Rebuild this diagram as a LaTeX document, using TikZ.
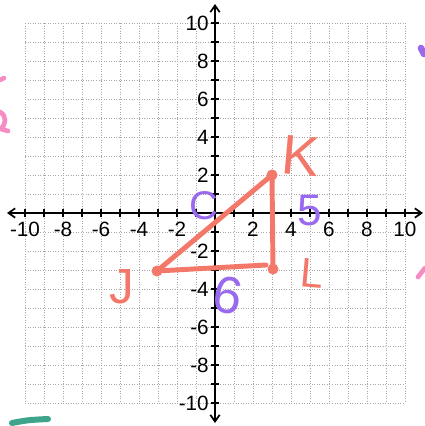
\documentclass[tikz,border=0pt]{standalone}
\usepackage{fontspec}
\setmainfont{Liberation Sans}
\usetikzlibrary{arrows.meta}
\definecolor{salmon}{HTML}{F3786A}
\definecolor{hpurple}{HTML}{9A6AEE}
\definecolor{hpink}{HTML}{F58CC4}
\definecolor{hgreen}{HTML}{3FA58A}
\definecolor{gridgray}{HTML}{A8A8A8}
\begin{document}
\begin{tikzpicture}[x=0.026316cm, y=-0.026316cm,
  gridline/.style={gridgray, line width=0.45pt, dash pattern=on 0.6pt off 1.3pt},
  axisline/.style={black, line width=1.3pt, {Straight Barb[length=5pt,width=7pt]}-{Straight Barb[length=5pt,width=7pt]}},
  tickmark/.style={black, line width=1pt},
  numlbl/.style={inner sep=0pt, font=\fontsize{15.5}{16}\selectfont},
  tri/.style={salmon, line width=3.7pt, line cap=round},
  vdot/.style={salmon, fill=salmon},
  hand/.style={inner sep=0pt, font=\fontsize{#1}{#1}\selectfont},
  strokemark/.style={line width=3.5pt, line cap=round}]
\useasboundingbox (0,0) rectangle (425,426);
\fill[white] (0,0) rectangle (425,426);
% grid
\foreach \i in {-10,...,10} {
  \draw[gridline] ({215+19*\i},23) -- ({215+19*\i},403);
  \draw[gridline] (25,{213-19*\i}) -- (405,{213-19*\i});
}
% axes
\coordinate (xl) at (7,213);
\coordinate (xr) at (423,213);
\coordinate (yt) at (215,4);
\coordinate (yb) at (215,423);
\draw[axisline] (xl) -- (xr);
\draw[axisline] (yb) -- (yt);
\foreach \i in {-10,...,-1,1,2,...,10} {
  \draw[tickmark] ({215+19*\i},209) -- ({215+19*\i},217);
  \draw[tickmark] (211,{213-19*\i}) -- (219,{213-19*\i});
}
% x labels
\foreach \i in {-10,-8,-6,-4,-2,2,4,6,8,10} {
  \node[numlbl] (xlab\i) at ({215+19*\i},229) {\i};
}
% y labels
\foreach \i in {-10,-8,-6,-4,-2,2,4,6,8,10} {
  \node[numlbl, anchor=east] (ylab\i) at (209,{213-19*\i}) {\i};
}
% triangle
\coordinate (K) at (272,175);
\coordinate (J) at (157,271);
\coordinate (L) at (273,269);
\coordinate (Lend) at (266,265);
\draw[tri] (J) -- (K) -- (L);
\draw[tri] (J) -- (Lend);
\fill[vdot] (K) circle (5.5);
\fill[vdot] (J) circle (5.5);
\fill[vdot] (L) circle (5.5);
% handwritten labels
\node[hand=42, text=salmon, rotate=-5] (labK) at (301,156) {K};
\node[hand=37, text=salmon] (labJ) at (122,287) {J};
\node[hand=31, text=salmon, rotate=-5] (labL) at (312,273) {L};
\node[hand=30, text=hpurple] (labC) at (204,206) {C};
\node[hand=33, text=hpurple] (lab5) at (310,211) {5};
\node[hand=39, text=hpurple, rotate=-10] (lab6) at (228,295) {6};
% stray marks at the edges
\draw[hpink, strokemark] (0,80) -- (4,78);
\draw[hpink, strokemark] (0,112) .. controls (7,116) and (6,124) .. (1,129) -- (8,131);
\draw[hpurple, strokemark, line width=5pt] (421,48) -- (424,54);
\draw[hpink, strokemark] (418,277) -- (425,268);
\draw[hgreen, strokemark, line width=4.5pt] (12,423) .. controls (28,420) .. (48,419);
\end{tikzpicture}
\end{document}
